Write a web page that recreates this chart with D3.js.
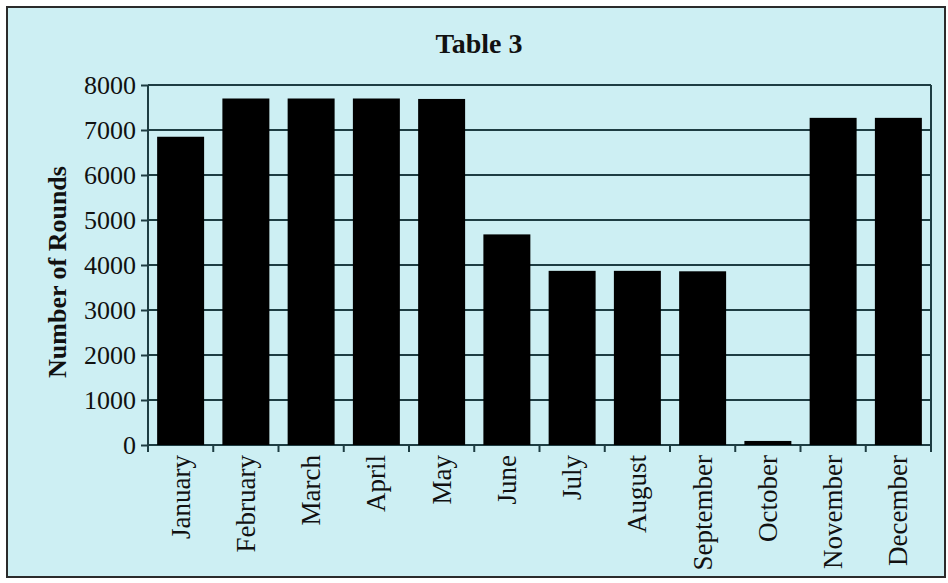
<!DOCTYPE html>
<html>
<head>
<meta charset="utf-8">
<script src="https://cdn.jsdelivr.net/npm/d3@7"></script>
<style>
  html, body { margin: 0; padding: 0; background: #fff; }
  svg { display: block; }
  text { font-family: "Liberation Serif", "Times New Roman", serif; fill: #111; }
</style>
</head>
<body>
<svg id="chart" width="948" height="583"></svg>
<script>
// data
var months = ['January', 'February', 'March', 'April', 'May', 'June',
  'July', 'August', 'September', 'October', 'November', 'December'];
var rounds = [6850, 7700, 7700, 7700, 7690, 4680, 3870, 3870, 3860, 90, 7270, 7270];
var yTicks = [0, 1000, 2000, 3000, 4000, 5000, 6000, 7000, 8000];

var svg = d3.select('#chart');
var margin = { left: 148, right: 17, top: 85, bottom: 138 };
var width = 948 - margin.left - margin.right,
  height = 583 - margin.top - margin.bottom;

// panel + frame
svg.append('rect')
  .attr('x', 7).attr('y', 7).attr('width', 938).attr('height', 570)
  .attr('fill', '#cdeff3').attr('stroke', '#2b2b2b').attr('stroke-width', 2);

svg.append('text')
  .attr('x', 479).attr('y', 53)
  .attr('text-anchor', 'middle')
  .style('font-size', '28px').style('font-weight', 'bold')
  .text('Table 3');

var g = svg.append('g').attr('transform', 'translate(' + margin.left + ',' + margin.top + ')');

var x = d3.scaleBand().domain(months).range([0, width]).paddingInner(0.28).paddingOuter(0.14);
var y = d3.scaleLinear().domain([0, 8000]).range([height, 0]);

// grid
g.append('g').selectAll('line').data(yTicks).join('line')
  .attr('x1', 0).attr('x2', width)
  .attr('y1', function(d) { return y(d); }).attr('y2', function(d) { return y(d); })
  .attr('stroke', '#1e3d42').attr('stroke-width', 2);
g.append('line')
  .attr('x1', width).attr('x2', width).attr('y1', 0).attr('y2', height)
  .attr('stroke', '#1e3d42').attr('stroke-width', 2);

// bars
g.append('g').selectAll('rect').data(rounds).join('rect')
  .attr('x', function(d, i) { return x(months[i]); })
  .attr('y', function(d) { return y(d); })
  .attr('width', x.bandwidth())
  .attr('height', function(d) { return height - y(d); })
  .attr('fill', '#000');

// y axis
var yAxis = g.append('g')
  .call(d3.axisLeft(y).tickValues(yTicks).tickSize(7).tickPadding(5).tickFormat(d3.format('d')));
yAxis.select('.domain').attr('stroke', '#1e3d42').attr('stroke-width', 2).attr('d', 'M0,' + height + 'V0');
yAxis.selectAll('.tick line').attr('stroke', '#1e3d42').attr('stroke-width', 2);
yAxis.selectAll('text').style('font-size', '26px').attr('dy', '0.34em');

// x axis, ticks sit on band boundaries
var xAxis = g.append('g').attr('transform', 'translate(0,' + height + ')');
xAxis.append('g').selectAll('line').data(d3.range(13)).join('line')
  .attr('x1', function(i) { return i * width / 12; })
  .attr('x2', function(i) { return i * width / 12; })
  .attr('y1', 0).attr('y2', 7)
  .attr('stroke', '#1e3d42').attr('stroke-width', 2);
xAxis.append('g').selectAll('text').data(months).join('text')
  .attr('transform', function(d) {
    return 'translate(' + (x(d) + x.bandwidth() / 2 + 9) + ',10) rotate(-90)';
  })
  .attr('text-anchor', 'end')
  .style('font-size', '27px')
  .text(function(d) { return d; });

// y label
svg.append('text')
  .attr('transform', 'translate(66,' + 272 + ') rotate(-90)')
  .attr('text-anchor', 'middle')
  .style('font-size', '26px').style('font-weight', 'bold')
  .text('Number of Rounds');
</script>
</body>
</html>
